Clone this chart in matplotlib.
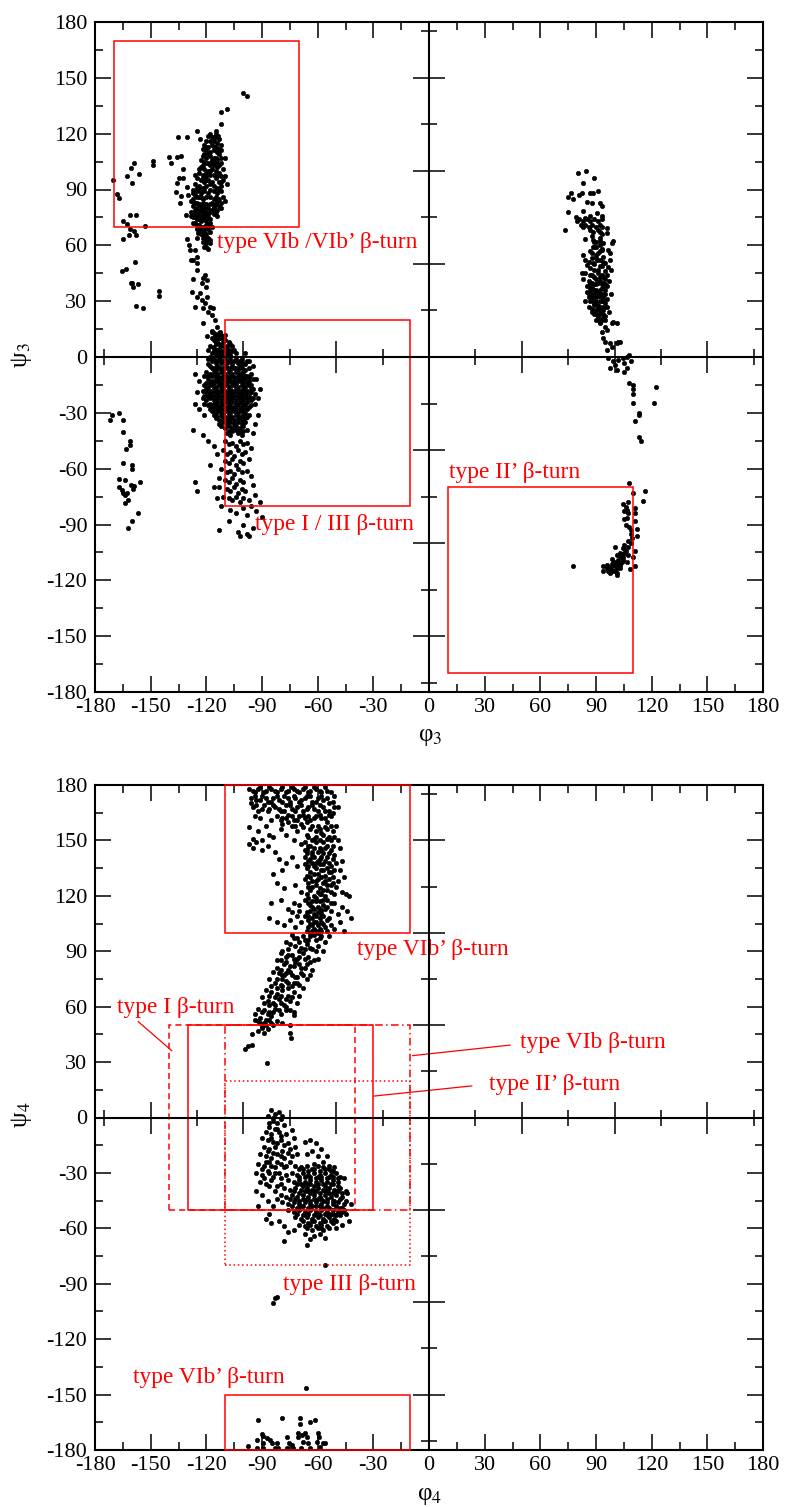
import matplotlib.pyplot as plt
import numpy as np
from matplotlib.patches import Rectangle
from matplotlib.ticker import MultipleLocator

plt.rcParams["font.family"] = ["Liberation Serif", "DejaVu Serif"]
plt.rcParams["mathtext.fontset"] = "stix"
plt.rcParams["axes.unicode_minus"] = False

RED = "#ff0000"

# ---------------- residue 3 (top panel): (phi3, psi3) ----------------
sheet_core = [
    (-119, 119), (-117, 118), (-115, 120), (-113, 117), (-116, 116), (-118, 116),
    (-121, 114), (-119, 113), (-117, 114), (-115, 113), (-113, 112), (-120, 111),
    (-118, 110), (-116, 111), (-114, 110), (-112, 111),
    (-122, 108), (-120, 107), (-118, 108), (-116, 107), (-114, 106), (-112, 107),
    (-121, 105), (-119, 104), (-117, 105), (-115, 104), (-113, 103),
    (-123, 102), (-121, 101), (-119, 100), (-117, 101), (-115, 100), (-113, 99),
    (-111, 101), (-124, 99), (-122, 98), (-120, 97), (-118, 98), (-112, 97),
    (-125, 96), (-123, 95), (-121, 94), (-119, 95), (-117, 94), (-115, 96),
    (-113, 94), (-111, 95), (-126, 93), (-124, 92), (-122, 91), (-120, 92),
    (-114, 91), (-112, 92),
    (-127, 90), (-125, 89), (-123, 88), (-121, 89), (-119, 88), (-116, 89),
    (-114, 88), (-112, 89), (-126, 87), (-124, 86), (-122, 85), (-120, 86),
    (-115, 86), (-113, 85), (-111, 86),
    (-128, 84), (-126, 83), (-124, 82), (-122, 83), (-120, 82), (-117, 83),
    (-115, 82), (-113, 81), (-127, 81), (-125, 80), (-123, 79), (-121, 80),
    (-116, 80), (-114, 79), (-112, 80),
    (-128, 78), (-126, 77), (-124, 76), (-122, 77), (-120, 76), (-118, 78),
    (-116, 77), (-114, 76), (-127, 75), (-125, 74), (-123, 73), (-121, 74), (-119, 75),
    (-126, 72), (-124, 71), (-122, 70), (-120, 71), (-118, 72), (-125, 69),
    (-123, 68), (-121, 67), (-119, 69), (-117, 70),
    (-123, 66), (-121, 65), (-119, 64), (-122, 62), (-120, 61), (-118, 63),
    (-121, 59), (-119, 58),
]

sheet_fill = [
    (-118, 120), (-116, 118), (-114, 118), (-120, 116), (-114, 115), (-112, 114),
    (-122, 112), (-120, 113), (-116, 113), (-113, 109), (-119, 109), (-121, 109),
    (-117, 106), (-115, 107), (-123, 106), (-120, 104), (-118, 103), (-116, 103),
    (-114, 102), (-122, 103), (-112, 104), (-124, 101), (-120, 99), (-118, 100),
    (-116, 98), (-114, 97), (-126, 98), (-122, 96), (-120, 95), (-118, 93),
    (-116, 92), (-112, 94), (-125, 91), (-123, 90), (-121, 91), (-118, 90),
    (-115, 89), (-113, 90), (-127, 88), (-125, 86), (-123, 86), (-118, 86),
    (-116, 85), (-114, 84), (-112, 83), (-127, 85), (-125, 83), (-123, 81),
    (-121, 82), (-119, 80), (-118, 82), (-116, 81), (-126, 79), (-124, 78),
    (-122, 79), (-120, 78), (-119, 77), (-117, 79), (-115, 78), (-128, 76),
    (-126, 75), (-124, 74), (-122, 75), (-120, 73), (-118, 74), (-127, 72),
    (-125, 71), (-123, 70), (-121, 69), (-119, 71), (-124, 67), (-122, 66),
    (-120, 66), (-118, 67), (-122, 64), (-120, 63), (-118, 61), (-120, 59),
]

sheet_sparse = [
    (-100.1, 141.7), (-97.9, 140.4), (-112.1, 131.9), (-109.0, 133.3),
    (-112.1, 125.2), (-114.9, 121.4), (-113.9, 118.8),
    (-135.1, 118.4), (-130.6, 118.0), (-124.8, 121.4), (-123.4, 117.0),
    (-140.1, 107.3), (-139.1, 104.1), (-135.6, 107.3), (-133.8, 108.0),
    (-132.4, 100.8), (-134.5, 96.4), (-132.7, 96.4), (-135.8, 93.7),
    (-136.2, 88.8), (-133.8, 86.7), (-134.2, 82.6), (-130.6, 91.5),
    (-129.7, 87.0), (-130.9, 76.3), (-127.0, 83.5),
    (-110, 107), (-110, 97), (-109, 93), (-110, 84),
    (-170.1, 95.1), (-167.9, 87.4), (-166.9, 85.3), (-162.9, 97.4),
    (-160.8, 101.4), (-158.8, 104.4), (-156.1, 98.3), (-160.1, 93.3),
    (-148.8, 105.5), (-148.8, 103.1), (-161.0, 76.3), (-158.0, 76.3),
    (-165.0, 73.2), (-162.9, 71.3), (-153.3, 70.4), (-161.0, 68.7),
    (-159.2, 67.8), (-161.9, 65.5), (-158.0, 65.5), (-165.0, 63.3),
    (-158.4, 51.2), (-165.2, 46.4), (-163.2, 47.3), (-160.8, 39.6),
    (-159.7, 37.5), (-156.6, 39.0), (-160.3, 39.9), (-145.6, 35.3),
    (-145.6, 33.0), (-158.0, 27.4), (-153.9, 26.2),
]

sheet_chain = [
    (-130.2, 63.2), (-129.3, 60.2), (-125.2, 63.8), (-124.3, 66.5),
    (-128.8, 57.5), (-126.1, 57.5), (-125.2, 53.9), (-128.4, 52.1),
    (-127.0, 52.1), (-124.8, 50.3), (-124.8, 46.7), (-120.7, 44.1),
    (-119.8, 41.4), (-121.6, 42.3), (-122.5, 39.6), (-127.0, 41.8),
    (-120.2, 37.8), (-127.9, 35.1), (-123.4, 34.2), (-125.2, 32.4),
    (-119.8, 32.4), (-122.5, 30.6), (-120.7, 28.9), (-126.1, 26.7),
    (-121.6, 26.2), (-118.0, 27.0), (-116.2, 26.2), (-118.9, 24.3),
    (-117.1, 22.6), (-121.6, 18.1), (-115.2, 19.9), (-114.4, 16.3),
    (-117.1, 13.6), (-119.8, 11.3), (-115.2, 11.3), (-112.5, 13.6),
    (-113.4, 10.0), (-114.6, 8.2), (-111.7, 6.4), (-116.2, 5.5),
    (-113.4, 4.1), (-111.2, 2.8), (-110.0, 1.1), (-114.4, 2.0), (-112.5, 0.2),
]

helix_core = [
    (-117, 14), (-115, 12), (-113, 13), (-111, 11), (-116, 9), (-114, 8),
    (-112, 10), (-110, 9), (-108, 8),
    (-118, 6), (-116, 5), (-114, 4), (-112, 6), (-110, 5), (-108, 4), (-106, 6),
    (-117, 2), (-115, 1), (-113, 2), (-111, 1), (-109, 2), (-107, 1), (-104, 2),
    (-119, -1), (-117, -2), (-115, -3), (-113, -1), (-111, -2), (-109, -3),
    (-107, -1), (-105, -2), (-103, -3), (-101, -1), (-118, -5), (-116, -6),
    (-114, -5), (-112, -6), (-110, -5), (-108, -6), (-106, -5), (-104, -6),
    (-102, -5), (-99, -4), (-97, -6),
    (-120, -8), (-118, -9), (-116, -8), (-114, -9), (-112, -8), (-110, -9),
    (-108, -8), (-106, -9), (-104, -8), (-102, -9), (-100, -8), (-98, -10),
    (-96, -9), (-119, -12), (-117, -13), (-115, -12), (-113, -13), (-111, -12),
    (-109, -13), (-107, -12), (-105, -13), (-103, -12), (-101, -13), (-99, -12),
    (-97, -13),
    (-121, -15), (-119, -16), (-117, -15), (-115, -16), (-113, -15), (-111, -16),
    (-109, -15), (-107, -16), (-105, -15), (-103, -16), (-101, -15), (-99, -16),
    (-97, -15), (-95, -17), (-120, -19), (-118, -20), (-116, -19), (-114, -20),
    (-112, -19), (-110, -20), (-108, -19), (-106, -20), (-104, -19), (-102, -20),
    (-100, -19), (-98, -20), (-96, -19), (-94, -20),
    (-122, -22), (-120, -23), (-118, -22), (-116, -23), (-114, -22), (-112, -23),
    (-110, -22), (-108, -23), (-106, -22), (-104, -23), (-102, -22), (-100, -23),
    (-98, -22), (-96, -23), (-119, -26), (-117, -27), (-115, -26), (-113, -27),
    (-111, -26), (-109, -27), (-107, -26), (-105, -27), (-103, -26), (-101, -27),
    (-99, -26), (-97, -27),
    (-117, -29), (-115, -30), (-113, -29), (-111, -30), (-109, -29), (-107, -30),
    (-105, -29), (-103, -30), (-101, -29), (-99, -30), (-97, -31), (-115, -33),
    (-113, -34), (-111, -33), (-109, -34), (-107, -33), (-105, -34), (-103, -33),
    (-101, -34), (-99, -33),
    (-112, -37), (-110, -38), (-108, -37), (-106, -38), (-104, -37), (-102, -38),
    (-100, -37), (-98, -39), (-109, -41), (-107, -42), (-103, -41), (-101, -42),
]

helix_fill = [
    (-116, 13), (-114, 11), (-112, 12), (-110, 12), (-117, 10), (-115, 7),
    (-113, 7), (-111, 8), (-109, 6), (-107, 7), (-119, 4), (-116, 3), (-114, 2),
    (-112, 3), (-110, 3), (-108, 2), (-106, 3), (-105, 4), (-118, 0), (-116, -1),
    (-114, -2), (-112, -3), (-110, -1), (-108, -2), (-106, -3), (-104, -1),
    (-102, -2), (-100, -3), (-98, -2), (-119, -4), (-117, -6), (-115, -7),
    (-113, -6), (-111, -7), (-109, -6), (-107, -7), (-105, -6), (-103, -7),
    (-101, -6), (-99, -7), (-121, -10), (-119, -10), (-117, -10), (-115, -10),
    (-113, -11), (-111, -10), (-109, -11), (-107, -10), (-105, -11), (-103, -10),
    (-101, -11), (-99, -10), (-97, -11), (-95, -12), (-120, -14), (-118, -14),
    (-116, -14), (-114, -13), (-112, -14), (-110, -14), (-108, -13), (-106, -14),
    (-104, -14), (-102, -13), (-100, -14), (-98, -14), (-96, -15), (-122, -18),
    (-120, -17), (-118, -18), (-116, -17), (-114, -18), (-112, -17), (-110, -18),
    (-108, -17), (-106, -18), (-104, -17), (-102, -18), (-100, -17), (-98, -18),
    (-96, -17), (-121, -21), (-119, -21), (-117, -21), (-115, -21), (-113, -21),
    (-111, -21), (-109, -21), (-107, -21), (-105, -21), (-103, -21), (-101, -21),
    (-99, -21), (-97, -21), (-95, -22), (-121, -25), (-118, -25), (-116, -25),
    (-114, -24), (-112, -25), (-110, -24), (-108, -25), (-106, -24), (-104, -25),
    (-102, -24), (-100, -25), (-98, -24), (-96, -26), (-118, -28), (-116, -28),
    (-114, -28), (-112, -28), (-110, -28), (-108, -28), (-106, -28), (-104, -28),
    (-102, -28), (-100, -28), (-98, -28), (-116, -31), (-114, -32), (-112, -31),
    (-110, -32), (-108, -31), (-106, -32), (-104, -31), (-102, -32), (-100, -31),
    (-98, -32), (-113, -36), (-111, -35), (-109, -36), (-107, -35), (-105, -36),
    (-103, -35), (-101, -36), (-99, -35), (-108, -40), (-106, -40), (-104, -39),
    (-102, -40), (-100, -40),
]

helix_sparse = [
    (-126, -9), (-124, -13), (-125, -19), (-126, -25), (-124, -28), (-121, -31),
    (-127, -39), (-122, -42), (-119, -45), (-94, -25), (-92, -22), (-91, -17),
    (-93, -12), (-95, -5), (-97, -2), (-99, 2), (-92, -31), (-94, -36), (-95, -41),
    (-110, -45), (-108, -47), (-106, -46), (-104, -48), (-102, -45), (-100, -47),
    (-98, -46), (-111, -50), (-109, -52), (-107, -51), (-105, -53), (-103, -50),
    (-101, -52), (-99, -51), (-96, -49), (-110, -56), (-108, -57), (-106, -55),
    (-104, -58), (-102, -56), (-100, -57), (-97, -55), (-112, -60), (-109, -62),
    (-107, -61), (-105, -63), (-103, -60), (-101, -62), (-98, -61), (-110, -66),
    (-108, -67), (-106, -65), (-104, -68), (-102, -66), (-100, -67), (-96, -64),
    (-113, -70), (-109, -71), (-107, -72), (-105, -70), (-103, -73), (-101, -71),
    (-99, -72), (-95, -69), (-111, -75), (-108, -76), (-106, -77), (-104, -75),
    (-102, -78), (-100, -76), (-97, -77), (-94, -74),
    (-114, -52), (-116, -48), (-118, -58), (-113, -65), (-126, -67), (-125, -72),
    (-116, -70), (-114, -76), (-112, -80), (-107, -82), (-104, -84), (-100, -81),
    (-98, -85), (-96, -80), (-93, -83), (-91, -78), (-90, -86), (-108, -88),
    (-100, -90), (-103, -94), (-98, -95), (-95, -92), (-113, -93), (-102, -96),
    (-97, -96),
]

left_alpha = [
    (-171.9, -33.9), (-171.0, -31.2), (-166.9, -29.9), (-165.0, -33.9),
    (-165.0, -40.1), (-161.0, -45.0), (-161.0, -47.3), (-163.4, -49.6),
    (-165.0, -57.1), (-160.1, -58.0), (-160.1, -60.4), (-166.9, -65.7),
    (-163.8, -66.1), (-166.9, -69.7), (-165.6, -71.5), (-164.7, -73.3),
    (-163.8, -74.1), (-162.9, -72.9), (-160.7, -68.8), (-159.2, -69.3),
    (-159.6, -71.1), (-156.0, -67.0), (-162.0, -76.9), (-163.8, -78.6),
    (-156.9, -84.0), (-160.1, -88.1), (-162.0, -92.1),
]

right_upper = [
    (80.1, 99.1), (84.4, 100.1), (89.1, 96.0), (83.2, 93.3), (76.4, 87.9),
    (75.1, 86.1), (77.4, 85.0), (81.0, 87.0), (82.3, 88.3), (86.8, 87.9),
    (88.6, 88.3), (91.3, 89.3), (85.0, 83.5), (88.0, 82.6), (92.2, 82.6),
    (93.1, 81.1), (75.1, 78.1), (79.2, 75.4), (79.6, 73.3), (82.8, 78.5),
    (84.1, 74.9), (86.8, 75.8), (90.4, 77.6), (93.1, 75.8), (73.3, 68.3),
    (83.2, 70.1), (87.7, 71.0), (88.6, 67.4), (92.2, 67.4), (93.1, 70.1),
    (96.1, 69.2), (95.7, 66.5), (84.1, 63.3), (88.6, 62.9), (92.2, 62.5),
    (99.3, 62.5), (98.4, 61.5), (96.6, 57.5), (88.6, 59.3), (93.1, 57.5),
    (97.5, 55.7), (83.2, 54.8), (84.1, 52.1), (85.0, 49.4), (82.3, 45.3),
    (88.6, 50.3), (90.4, 52.1), (94.9, 50.3), (97.5, 52.1), (96.6, 48.5),
    (81, 74), (83, 73), (85, 74), (87, 73), (89, 74), (91, 73), (93, 74),
    (82, 71), (84, 71), (86, 70), (90, 70), (92, 71),
    (87, 44), (89, 43), (91, 45), (93, 44), (95, 42), (86, 41), (88, 40),
    (90, 39), (92, 41), (94, 40), (96, 38), (87, 37), (89, 36), (91, 35),
    (93, 37), (95, 36), (86, 34), (88, 33), (90, 32), (92, 33), (94, 32),
    (96, 31), (87, 30), (89, 29), (91, 28), (93, 30), (95, 29), (88, 26),
    (90, 25), (92, 26), (94, 25), (96, 27), (89, 23), (91, 22), (93, 23),
    (95, 22), (90, 20), (92, 19), (94, 21), (97, 24), (98, 34), (85, 38),
    (84, 30), (86, 27),
    (87, 48), (89, 50), (91, 47), (93, 49), (95, 46), (88, 53), (90, 55),
    (92, 52), (94, 54), (87, 57), (89, 59), (91, 56), (93, 58), (90, 62),
    (92, 64), (88, 65), (94, 61), (96, 44), (98, 47), (86, 51), (84, 45),
    (83, 42), (85, 35), (97, 41),
    (88, 44), (90, 42), (92, 43), (94, 43), (87, 40), (89, 39), (91, 40),
    (93, 39), (95, 39), (86, 38), (88, 37), (90, 36), (92, 36), (94, 37),
    (87, 35), (89, 34), (91, 33), (93, 34), (95, 34), (86, 32), (88, 31),
    (90, 30), (92, 30), (94, 30), (89, 28), (91, 27), (93, 27), (95, 27),
    (88, 24), (90, 23), (92, 24), (94, 23), (91, 21), (93, 20), (95, 20),
    (89, 47), (92, 49), (94, 51), (90, 53), (88, 56), (92, 57), (90, 59),
    (92, 60), (89, 62), (93, 66), (87, 68), (91, 68),
    (92.2, 18.1), (94.9, 16.3), (93.1, 13.6), (95.7, 14.5), (98.4, 18.1),
    (99.3, 19.0), (101.1, 18.1), (93.6, 10.0), (94.9, 8.3), (97.5, 7.4),
    (98.4, 5.6), (95.7, 3.8), (101.1, 7.4), (102.0, 8.3), (102.9, 7.8),
    (96.6, -0.7), (99.3, -2.0), (102.0, -1.6), (104.7, -0.7), (106.5, 0.2),
    (107.9, 1.1), (105.0, -3.4), (101.1, -7.0), (105.0, -7.9), (106.5, -6.1),
    (108.6, -2.0), (97.5, -6.1), (100.2, -4.3),
    (108.0, -13.8), (110.1, -15.1), (110.1, -17.4), (110.1, -19.9),
    (110.1, -24.9), (113.3, -30.3), (113.3, -31.2), (111.0, -34.2),
    (113.2, -42.8), (114.1, -45.0), (122.3, -15.9), (121.3, -24.9),
]

right_lower = [
    (108.0, -67.9), (110.1, -72.9), (116.4, -72.0), (115.1, -77.2),
    (104.4, -79.0), (107.4, -78.1), (106.2, -80.4), (105.1, -82.5),
    (106.9, -82.2), (111.0, -81.3), (111.0, -84.0), (105.1, -87.2),
    (106.5, -86.7), (111.0, -88.1), (108.0, -91.3), (112.3, -92.2),
    (108.9, -93.1), (112.3, -96.2), (109.2, -97.4), (108.6, -100.1),
    (107.4, -102.2), (111.0, -104.0), (100.2, -102.2), (104.7, -102.8),
    (102.9, -105.5), (105.6, -105.5), (101.1, -106.4), (110.1, -107.7),
    (103.8, -108.2), (102.0, -109.1), (98.4, -108.8), (106.5, -110.0),
    (95.7, -111.8), (94.0, -112.4), (97.5, -112.7), (100.2, -112.4),
    (102.9, -113.6), (99.3, -114.9), (96.6, -114.9), (94.0, -115.0),
    (101.1, -116.2), (97.7, -116.2), (108.3, -114.1), (111.0, -112.4),
    (101.1, -117.1), (77.8, -112.4),
    (102.0, -110.9), (103.8, -110.0), (100.2, -110.0), (104.7, -107.3),
    (105.6, -103.7), (107.4, -106.4), (99.3, -110.9), (95.7, -113.6),
    (98.4, -111.3), (101.1, -113.6), (102.9, -111.8), (104.7, -109.1),
    (96, -113), (98, -114), (100, -115), (99, -112), (101, -111), (103, -112),
    (104, -106), (106, -104), (103, -107), (105, -101), (107, -99), (109, -95),
    (106, -90), (107, -84),
]

# turn regions of residue 3: (phi_min, phi_max, psi_min, psi_max)
res3_regions = [(-170, -70, 70, 170), (-110, -10, -80, 20), (10, 110, -170, -70)]
res3_labels = [
    ("type VIb /VIb\u2019 \u03b2-turn", -114.4, 58.4),
    ("type I / III \u03b2-turn", -93.8, -93.0),
    ("type II\u2019 \u03b2-turn", 10.8, -65.2),
]

# ---------------- residue 4 (bottom panel): (phi4, psi4) ----------------
upper_band = [
    (-97, 178), (-94, 176), (-91, 179), (-88, 177), (-85, 178), (-82, 176),
    (-79, 179), (-76, 177), (-73, 178), (-70, 176), (-67, 179), (-64, 177),
    (-61, 178), (-58, 176), (-55, 177), (-96, 173), (-93, 172), (-90, 174),
    (-87, 171), (-84, 173), (-81, 172), (-78, 174), (-75, 171), (-72, 173),
    (-69, 172), (-66, 174), (-63, 171), (-60, 173), (-57, 172), (-54, 170),
    (-51, 174), (-49, 168), (-52, 165),
    (-95, 168), (-92, 166), (-89, 169), (-86, 167), (-83, 168), (-80, 166),
    (-77, 169), (-74, 167), (-71, 168), (-68, 166), (-65, 168), (-62, 167),
    (-59, 169), (-56, 166), (-94, 163), (-91, 162), (-85, 161), (-82, 163),
    (-79, 162), (-76, 164), (-73, 161), (-70, 163), (-67, 162), (-64, 161),
    (-61, 163), (-58, 162), (-55, 160), (-53, 163),
    (-97, 157), (-92, 155), (-88, 158), (-84, 152), (-80, 156), (-77, 153),
    (-74, 158), (-71, 155), (-68, 157), (-66, 153), (-64, 156), (-62, 151),
    (-60, 158), (-58, 154), (-56, 157), (-54, 152), (-52, 155), (-50, 158),
    (-95, 151), (-90, 150), (-86, 153), (-73, 150),
    (-97, 148), (-95, 146), (-93, 149), (-90, 145), (-87, 147), (-83, 144),
    (-69, 148), (-67, 145), (-65, 147), (-63, 144), (-61, 149), (-59, 146),
    (-57, 143), (-55, 147), (-53, 145), (-51, 142), (-48, 146),
    (-81, 140), (-77, 138), (-74, 141), (-71, 136), (-84, 132), (-79, 134),
    (-67, 141), (-65, 139), (-63, 142), (-61, 138), (-59, 140), (-57, 137),
    (-55, 141), (-53, 136), (-66, 135), (-64, 133), (-62, 136), (-60, 132),
    (-58, 134), (-56, 131), (-54, 133), (-52, 130), (-50, 138), (-48, 134),
    (-47, 139), (-46, 130),
    (-82, 127), (-78, 124), (-72, 126), (-69, 122), (-67, 129), (-65, 127),
    (-63, 125), (-61, 128), (-59, 124), (-57, 127), (-55, 123), (-53, 126),
    (-66, 121), (-64, 123), (-62, 120), (-60, 122), (-58, 121), (-56, 120),
    (-50, 125), (-47, 122), (-45, 121), (-43, 120),
    (-85, 116), (-80, 118), (-76, 113), (-73, 116), (-70, 112), (-67, 118),
    (-65, 116), (-63, 114), (-61, 117), (-59, 113), (-57, 115), (-55, 118),
    (-66, 111), (-64, 112), (-62, 110), (-60, 111), (-58, 110), (-53, 112),
    (-51, 116), (-49, 110), (-47, 114), (-44, 112), (-42, 108),
    (-86, 108), (-82, 106), (-78, 104), (-75, 107), (-72, 103), (-69, 106),
    (-67, 109), (-65, 107), (-63, 104), (-61, 106), (-59, 102), (-57, 105),
    (-55, 101), (-66, 101), (-64, 100), (-62, 102), (-60, 100), (-53, 104),
    (-51, 102), (-48, 106), (-46, 101), (-54, 108),
]

upper_fill = [
    (-95, 177), (-92, 178), (-89, 176), (-86, 179), (-83, 177), (-80, 178),
    (-77, 176), (-74, 179), (-71, 177), (-68, 178), (-65, 176), (-62, 179),
    (-59, 177), (-56, 179), (-53, 176), (-94, 174), (-91, 172), (-88, 173),
    (-85, 171), (-82, 174), (-79, 171), (-76, 173), (-73, 174), (-70, 171),
    (-67, 173), (-64, 174), (-61, 171), (-58, 174), (-55, 173), (-52, 171),
    (-96, 170), (-93, 169), (-90, 167), (-87, 166), (-84, 169), (-81, 167),
    (-78, 166), (-75, 169), (-72, 166), (-69, 169), (-66, 167), (-63, 169),
    (-60, 166), (-57, 168), (-54, 166), (-51, 168), (-80, 161), (-77, 162),
    (-74, 163), (-71, 161), (-68, 164), (-65, 163), (-62, 162), (-59, 164),
    (-56, 162), (-54, 164),
    (-79, 159), (-76, 160), (-72, 158), (-69, 159), (-66, 160), (-63, 158),
    (-61, 155), (-59, 156), (-57, 153), (-55, 156), (-53, 158), (-65, 152),
    (-63, 150), (-61, 152), (-59, 150), (-57, 149), (-55, 151), (-53, 150),
    (-67, 149), (-51, 152), (-49, 150), (-66, 145), (-64, 147), (-62, 146),
    (-60, 144), (-58, 145), (-56, 146), (-54, 143), (-52, 147),
    (-66, 143), (-64, 140), (-62, 141), (-60, 139), (-58, 141), (-56, 139),
    (-54, 138), (-52, 140), (-67, 137), (-65, 136), (-63, 138), (-61, 135),
    (-59, 137), (-57, 134), (-55, 135), (-53, 133), (-51, 134), (-66, 131),
    (-64, 130), (-62, 132), (-60, 129), (-58, 130), (-56, 128), (-54, 129),
    (-52, 127), (-65, 125), (-63, 128), (-61, 126), (-59, 121), (-57, 123),
    (-55, 126), (-53, 122), (-51, 121), (-49, 128),
    (-65, 119), (-63, 117), (-61, 119), (-59, 117), (-57, 118), (-55, 114),
    (-53, 116), (-64, 115), (-62, 113), (-60, 114), (-58, 112), (-56, 113),
    (-65, 109), (-63, 108), (-61, 109), (-59, 108), (-57, 109), (-55, 107),
    (-64, 105), (-62, 106), (-60, 104), (-58, 106), (-56, 103), (-65, 103),
    (-63, 101), (-61, 101), (-58, 101), (-71, 109), (-74, 111), (-70, 115),
]

diagonal_band = [
    (-74, 99), (-71, 97), (-68, 98), (-65, 96), (-62, 99), (-59, 97), (-56, 95),
    (-72, 93), (-69, 92), (-66, 94), (-63, 91), (-60, 93), (-77, 95), (-57, 90),
    (-54, 98),
    (-80, 89), (-77, 87), (-74, 88), (-71, 86), (-68, 89), (-65, 87), (-62, 85),
    (-78, 83), (-75, 82), (-72, 84), (-69, 81), (-66, 83), (-82, 85), (-63, 80),
    (-60, 86),
    (-84, 79), (-81, 78), (-78, 77), (-75, 79), (-72, 76), (-69, 78), (-66, 75),
    (-83, 73), (-80, 72), (-77, 74), (-74, 71), (-71, 73), (-86, 75), (-68, 70),
    (-64, 77),
    (-88, 69), (-85, 68), (-82, 67), (-79, 69), (-76, 66), (-73, 68), (-87, 63),
    (-84, 62), (-81, 64), (-78, 61), (-75, 63), (-90, 65), (-71, 62), (-70, 66),
    (-92, 59), (-89, 58), (-86, 57), (-83, 59), (-80, 56), (-91, 54), (-88, 53),
    (-85, 55), (-82, 52), (-94, 56), (-79, 51), (-77, 58), (-73, 57),
    (-90, 49), (-87, 48), (-92, 47), (-84, 50), (-89, 46),
    (-74.9, 58.2), (-73.0, 55.4), (-74.9, 50.1), (-74.9, 45.6), (-74.6, 42.9),
    (-87.4, 29.3), (-95.2, 45.2), (-97.3, 38.7), (-99.1, 36.9), (-95.2, 39.2),
    (-90.2, 48.3), (-91.0, 51.0), (-93.7, 52.8),
]

diagonal_fill = [
    (-73, 97), (-70, 95), (-67, 96), (-64, 98), (-61, 96), (-58, 98), (-75, 94),
    (-70, 90), (-67, 91), (-64, 92), (-61, 90), (-76, 91), (-79, 90), (-76, 88),
    (-73, 86), (-70, 87), (-67, 86), (-64, 84), (-73, 82), (-70, 83), (-67, 81),
    (-80, 85), (-77, 84), (-76, 80), (-82, 81), (-80, 80), (-79, 77), (-77, 78),
    (-74, 77), (-71, 76), (-68, 77), (-82, 75), (-79, 75), (-76, 73), (-73, 73),
    (-70, 72), (-85, 71), (-82, 70), (-79, 71), (-76, 70), (-86, 66), (-83, 65),
    (-80, 66), (-77, 64), (-74, 65), (-89, 62), (-86, 61), (-83, 61), (-80, 62),
    (-77, 60), (-90, 57), (-87, 56), (-84, 57), (-81, 58), (-89, 51), (-86, 53),
    (-92, 52), (-88, 50), (-85, 51),
]

alpha_sparse = [
    (-85, 4), (-83, 2), (-81, 3), (-87, 1), (-79, 1), (-84, -2), (-82, -3),
    (-80, -1), (-86, -5), (-83, -6), (-78, -4), (-88, -8), (-85, -9), (-81, -8),
    (-77, -9), (-74, -7), (-90, -11), (-87, -12), (-84, -13), (-80, -12),
    (-76, -14), (-73, -11), (-89, -16), (-86, -17), (-83, -16), (-79, -18),
    (-75, -17), (-72, -16), (-91, -20), (-88, -21), (-85, -22), (-82, -20),
    (-78, -22), (-74, -21), (-71, -20), (-92, -25), (-89, -26), (-86, -24),
    (-83, -27), (-80, -25), (-77, -26), (-93, -30), (-90, -31), (-87, -29),
    (-84, -32), (-81, -30), (-91, -35), (-88, -36), (-85, -34), (-82, -37),
    (-84, 0), (-86, -3), (-82, -6), (-80, -10), (-85, -11), (-82, -14),
    (-78, -15), (-87, -18), (-84, -19), (-80, -21), (-76, -19), (-88, -24),
    (-85, -26), (-82, -24), (-78, -27), (-90, -28), (-86, -30), (-83, -30),
    (-80, -33), (-89, -33), (-86, -37), (-83, -40), (-80, -36), (-77, -31),
    (-75, -24),
    (-67, -13), (-64, -12), (-61, -14), (-58, -17), (-55, -21), (-63, -18),
    (-60, -21), (-66, -20), (-57, -24), (-54, -26), (-62, -25), (-52, -29),
    (-88, -55), (-85, -57), (-81, -56), (-78, -59), (-76, -62), (-73, -61),
    (-67, -63), (-64, -66), (-59, -63), (-56, -65), (-50, -60), (-47, -58),
    (-43, -56), (-66, -69), (-78, -67), (-45, -52), (-42, -47),
    (-93, -40), (-90, -42), (-87, -45), (-84, -48), (-82, -44), (-86, -52),
    (-92, -48),
    (-56, -80), (-84.2, -100.6), (-83.0, -97.9), (-82.1, -97.4), (-66.3, -146.6),
]

alpha_core = [
    (-72, -26), (-69, -27), (-66, -26), (-63, -28), (-60, -26), (-57, -27),
    (-54, -28), (-51, -27),
    (-74, -30), (-71, -31), (-68, -30), (-65, -31), (-62, -30), (-59, -31),
    (-56, -30), (-53, -31), (-50, -30), (-48, -32),
    (-76, -34), (-73, -35), (-70, -34), (-67, -35), (-64, -34), (-61, -35),
    (-58, -34), (-55, -35), (-52, -34), (-49, -35), (-46, -33),
    (-78, -38), (-75, -39), (-72, -38), (-69, -39), (-66, -38), (-63, -39),
    (-60, -38), (-57, -39), (-54, -38), (-51, -39), (-48, -38), (-45, -40),
    (-80, -42), (-77, -43), (-74, -42), (-71, -43), (-68, -42), (-65, -43),
    (-62, -42), (-59, -43), (-56, -42), (-53, -43), (-50, -42), (-47, -43),
    (-44, -41),
    (-79, -46), (-76, -47), (-73, -46), (-70, -47), (-67, -46), (-64, -47),
    (-61, -46), (-58, -47), (-55, -46), (-52, -47), (-49, -46), (-46, -47),
    (-76, -50), (-73, -51), (-70, -50), (-67, -51), (-64, -50), (-61, -51),
    (-58, -50), (-55, -51), (-52, -50), (-49, -51), (-46, -50),
    (-72, -54), (-69, -55), (-66, -54), (-63, -55), (-60, -54), (-57, -55),
    (-54, -54), (-51, -55), (-48, -53),
    (-70, -58), (-67, -59), (-64, -58), (-61, -59), (-58, -58), (-55, -59),
    (-52, -57),
    (-70, -28), (-67, -32), (-64, -36), (-61, -40), (-58, -44), (-55, -48),
    (-52, -52), (-69, -36), (-66, -44), (-63, -48), (-60, -52), (-57, -56),
    (-54, -41), (-51, -45), (-48, -49), (-72, -44), (-69, -48), (-66, -52),
    (-63, -56), (-60, -32), (-57, -36), (-54, -32), (-65, -40), (-62, -44),
    (-59, -48), (-56, -52), (-53, -36), (-50, -40),
    (-68, -28), (-65, -29), (-62, -28), (-59, -29), (-56, -28), (-53, -29),
    (-70, -32), (-64, -32), (-61, -33), (-58, -32), (-55, -33), (-52, -32),
    (-49, -33), (-71, -36), (-68, -37), (-66, -36), (-62, -37), (-60, -36),
    (-56, -37), (-55, -39), (-52, -36), (-49, -37), (-73, -40), (-70, -41),
    (-67, -40), (-64, -41), (-62, -40), (-59, -41), (-56, -40), (-52, -41),
    (-49, -40), (-47, -41), (-75, -44), (-70, -45), (-68, -44), (-64, -45),
    (-60, -44), (-57, -45), (-55, -44), (-52, -45), (-48, -44), (-45, -45),
    (-74, -48), (-71, -49), (-68, -48), (-65, -49), (-61, -48), (-57, -49),
    (-54, -49), (-50, -48), (-47, -49), (-71, -52), (-68, -53), (-65, -52),
    (-62, -53), (-59, -53), (-55, -53), (-53, -52), (-50, -53), (-47, -51),
    (-68, -56), (-65, -57), (-62, -56), (-59, -57), (-56, -56), (-53, -56),
    (-50, -56), (-66, -60), (-63, -61), (-60, -60), (-57, -61), (-54, -60),
    (-62, -64), (-58, -60),
]

bottom_strip = [
    (-92.0, -163.8), (-79.4, -162.8), (-69.5, -162.8), (-69.5, -165.9),
    (-64.2, -165.0), (-61.5, -163.8), (-92.9, -174.6), (-90.2, -171.4),
    (-89.3, -172.4), (-87.4, -173.7), (-85.7, -174.6), (-84.8, -176.4),
    (-89.3, -176.4), (-97.3, -177.8), (-82.1, -176.4), (-81.2, -179.1),
    (-76.7, -173.1), (-75.2, -176.0), (-74.0, -177.3), (-76.7, -178.7),
    (-70.4, -171.0), (-68.6, -171.9), (-66.8, -171.0), (-70.4, -172.8),
    (-65.9, -172.8), (-67.7, -175.8), (-65.0, -176.0), (-59.7, -171.0),
    (-59.2, -173.1), (-60.6, -175.5), (-57.0, -176.4), (-56.1, -176.0),
    (-58.8, -178.2), (-69.0, -179.1), (-64.2, -179.1), (-83.0, -179.1),
    (-89.3, -179.1), (-92.9, -179.1), (-73.1, -179.1),
]

# turn regions of residue 4: (phi_min, phi_max, psi_min, psi_max)
vib_prime_regions = [(-110, -10, 100, 180), (-110, -10, -180, -150)]
type_i_region = (-140, -40, -50, 50)
type_ii_prime_region = (-130, -30, -50, 50)
type_vib_region = (-110, -10, -50, 50)
type_iii_region = (-110, -10, -80, 20)
res4_labels = [
    ("type VIb\u2019 \u03b2-turn", -38.8, 88.0),
    ("type I \u03b2-turn", -168.3, 56.7),
    ("type VIb \u03b2-turn", 49.0, 37.6),
    ("type II\u2019 \u03b2-turn", 32.5, 15.0),
    ("type III \u03b2-turn", -78.5, -93.4),
    ("type VIb\u2019 \u03b2-turn", -159.7, -143.6),
]
# leader lines: (phi_start, psi_start, phi_end, psi_end)
res4_leaders = [
    (-156.7, 51.9, -138.7, 36.2),
    (43.7, 39.2, -8.8, 33.5),
    (23.0, 17.1, -29.6, 11.6),
]


def setup_frame(ax):
    ax.set_xlim(-180, 180)
    ax.set_ylim(-180, 180)
    for axis in (ax.xaxis, ax.yaxis):
        axis.set_major_locator(MultipleLocator(30))
        axis.set_minor_locator(MultipleLocator(15))
    ax.tick_params(which="both", direction="in", top=True, right=True,
                   width=1.1, labelsize=16)
    ax.tick_params(which="major", length=11.5)
    ax.tick_params(which="minor", length=5.8)
    ax.tick_params(axis="x", pad=4.5)
    ax.tick_params(axis="y", pad=5.5)
    for spine in ax.spines.values():
        spine.set_linewidth(1.5)


def zero_axes(fig, rect):
    zax = fig.add_axes(rect)
    zax.set_xlim(-180, 180)
    zax.set_ylim(-180, 180)
    zax.patch.set_visible(False)
    zax.spines["top"].set_visible(False)
    zax.spines["right"].set_visible(False)
    for side in ("left", "bottom"):
        zax.spines[side].set_position(("data", 0))
        zax.spines[side].set_linewidth(1.5)
    for axis in (zax.xaxis, zax.yaxis):
        axis.set_major_locator(MultipleLocator(50))
        axis.set_minor_locator(MultipleLocator(25))
    zax.tick_params(which="both", direction="inout", width=1.1,
                    labelbottom=False, labelleft=False)
    zax.tick_params(which="major", length=23)
    zax.tick_params(which="minor", length=11.5)
    return zax


def scatter(ax, pts):
    arr = np.array(pts, dtype=float)
    ax.plot(arr[:, 0], arr[:, 1], "o", ms=3.2, mfc="black", mec="black",
            mew=0.4, zorder=2)


def region(ax, bounds, ls="-"):
    x0, x1, y0, y1 = bounds
    ax.add_patch(Rectangle((x0, y0), x1 - x0, y1 - y0, fill=False,
                           edgecolor=RED, lw=1.1, linestyle=ls,
                           zorder=4, clip_on=False))


def labels(ax, items):
    for text, x, y in items:
        ax.text(x, y, text, color=RED, fontsize=16.8, ha="left",
                va="baseline", zorder=5)


fig = plt.figure(figsize=(7.86, 15.07), dpi=100)
top_rect = [95 / 786, 1 - 692 / 1507, 668 / 786, 670 / 1507]
bot_rect = [95 / 786, 1 - 1450 / 1507, 668 / 786, 665 / 1507]

# top panel
ax1 = fig.add_axes(top_rect)
setup_frame(ax1)
for pts in (sheet_core, sheet_fill, sheet_sparse, sheet_chain, helix_core,
            helix_fill, helix_sparse, left_alpha, right_upper, right_lower):
    scatter(ax1, pts)
for bounds in res3_regions:
    region(ax1, bounds)
labels(ax1, res3_labels)
zero_axes(fig, top_rect)

# bottom panel
ax2 = fig.add_axes(bot_rect)
setup_frame(ax2)
for pts in (upper_band, upper_fill, diagonal_band, diagonal_fill,
            alpha_sparse, alpha_core, bottom_strip):
    scatter(ax2, pts)
for bounds in vib_prime_regions:
    region(ax2, bounds)
region(ax2, type_i_region, ls=(0, (4, 2.6)))
region(ax2, type_ii_prime_region)
region(ax2, type_vib_region, ls=(0, (5, 2.2, 1, 2.2)))
region(ax2, type_iii_region, ls=(0, (1, 1.8)))
labels(ax2, res4_labels)
for x0, y0, x1, y1 in res4_leaders:
    ax2.plot([x0, x1], [y0, y1], color=RED, lw=0.9, zorder=5, clip_on=False)
zero_axes(fig, bot_rect)

fig.text(430 / 786, 1 - 737 / 1507, "\u03c6$_3$", fontsize=18,
         ha="center", va="center")
fig.text(430 / 786, 1 - 1496 / 1507, "\u03c6$_4$", fontsize=18,
         ha="center", va="center")
fig.text(22 / 786, 1 - 355 / 1507, "\u03c8$_3$", fontsize=18,
         ha="center", va="center", rotation=90)
fig.text(22 / 786, 1 - 1115 / 1507, "\u03c8$_4$", fontsize=18,
         ha="center", va="center", rotation=90)

fig.savefig("out.png", dpi=100)
